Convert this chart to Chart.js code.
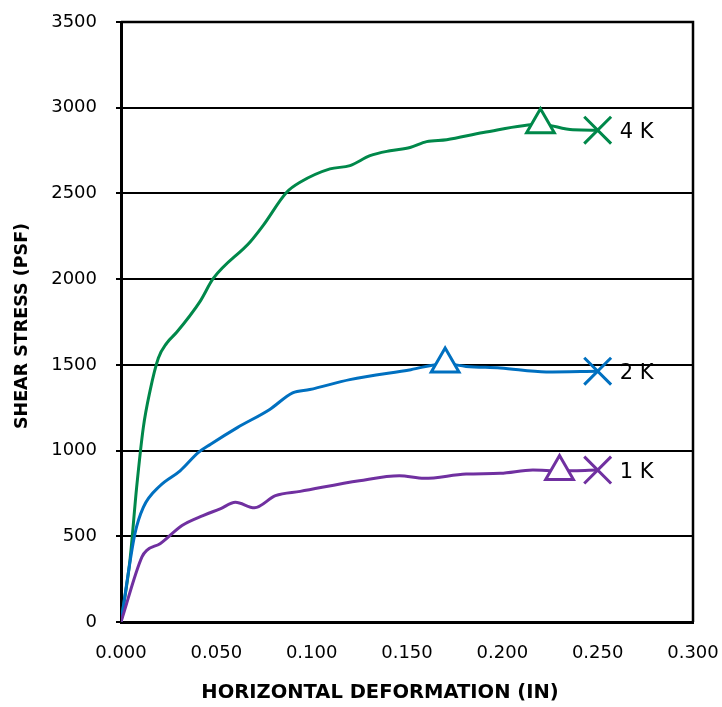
<!DOCTYPE html>
<html>
<head>
<meta charset="utf-8">
<title>Shear stress vs horizontal deformation</title>
<script src="https://cdn.jsdelivr.net/npm/chart.js@4/dist/chart.umd.min.js"></script>
<style>
  body { margin: 0; background: #fff; }
  canvas { display: block; }
</style>
</head>
<body>
<canvas id="chart" width="722" height="707"></canvas>
<script>
// ================= DATA =================
const seriesNames = ['1 K', '2 K', '4 K'];
const seriesColors = ['#7030A0', '#0070C0', '#00884A'];

// 1 K normal load
const deform1 = [0, 0.011, 0.0135, 0.0205, 0.032, 0.043, 0.052, 0.060, 0.070, 0.081, 0.094, 0.125, 0.146, 0.159, 0.181, 0.199, 0.216, 0.230, 0.250];
const stress1 = [0, 380, 418, 457, 563, 621, 660, 698, 666, 737, 762, 824, 853, 838, 863, 867, 886, 882, 886];

// 2 K normal load
const deform2 = [0, 0.0073, 0.0117, 0.0205, 0.031, 0.0405, 0.047, 0.061, 0.078, 0.090, 0.099, 0.120, 0.152, 0.170, 0.181, 0.199, 0.223, 0.250];
const stress2 = [0, 515, 669, 795, 882, 988, 1037, 1134, 1240, 1337, 1356, 1414, 1472, 1507, 1491, 1482, 1459, 1463];

// 4 K normal load
const deform4 = [0, 0.0047, 0.0082, 0.0117, 0.0152, 0.0196, 0.024, 0.0292, 0.0414, 0.0484, 0.0677, 0.0746, 0.0869, 0.0939, 0.1096, 0.1201, 0.1306, 0.1411, 0.1516, 0.1603, 0.1708, 0.190, 0.220, 0.237, 0.250];
const stress4 = [0, 360, 785, 1134, 1347, 1540, 1627, 1690, 1869, 2004, 2217, 2314, 2507, 2565, 2643, 2662, 2720, 2749, 2768, 2802, 2813, 2855, 2904, 2871, 2869];

// peak (triangle) markers
const peakDeform = [0.230, 0.170, 0.220];
const peakStress = [878, 1505, 2900];

const xTicks = [0, 0.05, 0.10, 0.15, 0.20, 0.25, 0.30];
const yTicks = [0, 500, 1000, 1500, 2000, 2500, 3000, 3500];

const xTitle = 'HORIZONTAL DEFORMATION (IN)';
const yTitle = 'SHEAR STRESS (PSF)';

// ================= BUILD DATASETS =================
Chart.defaults.font.family = "'DejaVu Sans', sans-serif";
Chart.defaults.color = '#000';

function toPoints(xs, ys) {
    return xs.map((x, i) => ({ x: x, y: ys[i] }));
}

const curves = [[deform1, stress1], [deform2, stress2], [deform4, stress4]];
const datasets = [];

curves.forEach((c, i) => {
    const n = c[0].length;
    datasets.push({
        label: seriesNames[i],
        data: toPoints(c[0], c[1]),
        showLine: true,
        borderColor: seriesColors[i],
        backgroundColor: seriesColors[i],
        borderWidth: 3,
        tension: 0.3,
        cubicInterpolationMode: 'monotone',
        pointStyle: 'crossRot',
        pointRadius: ctx => ctx.dataIndex === n - 1 ? 19 : 0,
        pointBorderWidth: 3,
        pointHoverRadius: 0,
        order: 2
    });
});

seriesNames.forEach((name, i) => {
    datasets.push({
        label: name + ' peak',
        data: [{ x: peakDeform[i], y: peakStress[i] }],
        showLine: false,
        pointStyle: 'triangle',
        pointRadius: 16,
        pointBorderWidth: 3,
        borderColor: seriesColors[i],
        backgroundColor: '#fff',
        order: 1
    });
});

// frame, end labels and axis titles
const decorations = {
    id: 'decorations',
    afterDraw(chart) {
        const ctx = chart.ctx;
        const a = chart.chartArea;
        const xs = chart.scales.x, ys = chart.scales.y;

        ctx.save();
        ctx.strokeStyle = '#000';
        ctx.lineWidth = 2.5;
        ctx.beginPath();
        ctx.moveTo(a.left, a.top);
        ctx.lineTo(a.right, a.top);
        ctx.lineTo(a.right, a.bottom);
        ctx.stroke();

        // series labels next to the last point
        ctx.fillStyle = '#000';
        ctx.font = "21px 'DejaVu Sans'";
        ctx.textAlign = 'left';
        ctx.textBaseline = 'middle';
        curves.forEach((c, i) => {
            const n = c[0].length;
            ctx.fillText(seriesNames[i], xs.getPixelForValue(c[0][n - 1]) + 22, ys.getPixelForValue(c[1][n - 1]) + 2);
        });

        // axis titles
        ctx.font = "bold 19.5px 'DejaVu Sans'";
        ctx.textAlign = 'center';
        ctx.fillText(xTitle, 380, 693);

        ctx.translate(22, 326);
        ctx.rotate(-Math.PI / 2);
        ctx.font = "bold 17.5px 'DejaVu Sans'";
        ctx.fillText(yTitle, 0, 0);
        ctx.restore();
    }
};

new Chart(document.getElementById('chart'), {
    type: 'scatter',
    data: { datasets: datasets },
    options: {
        responsive: false,
        animation: false,
        layout: { padding: { left: 0, right: 29, top: 19, bottom: 0 } },
        plugins: {
            legend: { display: false },
            tooltip: { enabled: false }
        },
        scales: {
            x: {
                type: 'linear',
                min: 0,
                max: 0.3,
                afterBuildTicks: scale => { scale.ticks = xTicks.map(v => ({ value: v })); },
                afterFit: scale => {
                    scale.height = 85;
                    scale.paddingLeft = 0;
                    scale.paddingRight = 0;
                },
                ticks: {
                    font: { size: 18 },
                    padding: 21,
                    maxRotation: 0,
                    callback: v => v.toFixed(3)
                },
                grid: { drawOnChartArea: false, drawTicks: false },
                border: { color: '#000', width: 3 }
            },
            y: {
                min: 0,
                max: 3500,
                afterBuildTicks: scale => { scale.ticks = yTicks.map(v => ({ value: v })); },
                afterFit: scale => {
                    scale.width = 121;
                    scale.paddingTop = 0;
                    scale.paddingBottom = 0;
                },
                ticks: {
                    font: { size: 18 },
                    padding: 19,
                    callback: v => String(v)
                },
                grid: { color: '#000', lineWidth: 2, tickLength: 5 },
                border: { color: '#000', width: 3 }
            }
        }
    },
    plugins: [decorations]
});
</script>
</body>
</html>
